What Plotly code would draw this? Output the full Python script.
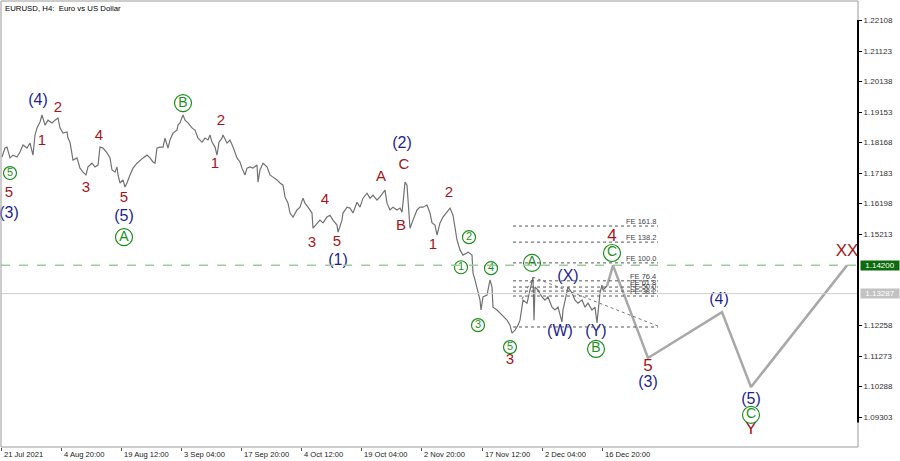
import plotly.graph_objects as go

# ---------------- data ----------------
price_x = [2,5,7,10,13,17,20,23,27,30,33,35,37,40,42,45,48,52,55,58,60,63,67,68,70,72,73,77,80,83,86,88,92,95,98,100,103,107,110,112,115,117,118,120,123,125,127,130,
           133,137,140,143,147,150,153,155,157,160,163,165,168,170,173,177,178,180,183,185,188,192,195,198,202,205,208,210,212,215,217,219,222,223,227,230,233,237,240,242,245,247,250,253,257,258,260,263,267,270,273,277,280,
           283,285,288,290,293,297,300,303,305,308,312,313,317,320,323,327,330,333,337,338,342,343,347,350,353,357,360,363,367,370,373,377,380,383,385,387,390,393,397,400,402,403,405,407,408,410,413,417,420,423,427,430,432,435,437,440,443,447,450,
           453,455,457,460,463,467,468,472,473,475,478,480,481,483,487,490,492,493,497,500,503,507,510,512,515,518,520,522,523,527,530,532,533,534,535,538,542,545,548,552,555,558,562,563,567,568,572,575,578,582,585,588,592,595,597,598,600,602,603,605,607]
price_y = [1.1770,1.1799,1.1802,1.1767,1.1776,1.1770,1.1786,1.1809,1.1799,1.1815,1.1776,1.1841,1.1864,1.1883,1.1906,1.1873,1.1889,1.1880,1.1889,1.1896,1.1864,1.1847,1.1851,1.1831,1.1818,1.1776,1.1760,1.1767,1.1734,1.1721,1.1712,1.1738,1.1750,1.1738,1.1744,1.1802,1.1799,1.1783,1.1767,1.1728,1.1721,1.1738,1.1712,1.1686,1.1696,1.1673,1.1686,1.1712,
           1.1734,1.1750,1.1760,1.1767,1.1776,1.1767,1.1754,1.1750,1.1799,1.1802,1.1802,1.1831,1.1799,1.1825,1.1847,1.1857,1.1873,1.1880,1.1906,1.1889,1.1880,1.1864,1.1857,1.1831,1.1818,1.1831,1.1825,1.1841,1.1818,1.1802,1.1776,1.1818,1.1831,1.1841,1.1815,1.1825,1.1802,1.1767,1.1754,1.1734,1.1712,1.1734,1.1738,1.1734,1.1744,1.1689,1.1728,1.1750,1.1738,1.1712,1.1705,1.1696,1.1686,
           1.1679,1.1641,1.1621,1.1589,1.1576,1.1599,1.1608,1.1637,1.1621,1.1608,1.1589,1.1540,1.1557,1.1566,1.1557,1.1576,1.1582,1.1566,1.1550,1.1527,1.1566,1.1589,1.1608,1.1605,1.1589,1.1624,1.1608,1.1637,1.1653,1.1637,1.1647,1.1631,1.1641,1.1653,1.1663,1.1621,1.1599,1.1608,1.1599,1.1605,1.1592,1.1621,1.1689,1.1679,1.1641,1.1540,1.1566,1.1599,1.1608,1.1608,1.1615,1.1589,1.1557,1.1550,1.1518,1.1557,1.1576,1.1592,1.1605,
           1.1582,1.1544,1.1502,1.1470,1.1453,1.1460,1.1463,1.1453,1.1395,1.1373,1.1331,1.1308,1.1276,1.1318,1.1324,1.1373,1.1350,1.1285,1.1276,1.1266,1.1253,1.1243,1.1227,1.1201,1.1211,1.1227,1.1243,1.1285,1.1308,1.1298,1.1340,1.1366,1.1382,1.1243,1.1350,1.1340,1.1318,1.1308,1.1318,1.1285,1.1276,1.1285,1.1237,1.1276,1.1331,1.1350,1.1331,1.1308,1.1298,1.1308,1.1285,1.1298,1.1276,1.1285,1.1234,1.1276,1.1331,1.1356,1.1340,1.1347,1.1353]

proj_x = [607, 613, 648, 722, 751, 847]
proj_y = [1.1353, 1.1420, 1.1121, 1.1269, 1.1027, 1.1420]

# wave labels
red_small_txt = ["5", "2", "1", "4", "3", "5", "2", "1", "4", "3", "5", "A", "C", "B", "2", "1", "3"]
red_small_x   = [9, 58, 42, 99, 86, 124, 221, 215, 325, 312, 337, 381, 404, 401, 449, 433, 510]
red_small_y   = [1.1653, 1.1928, 1.1822, 1.1838, 1.1670, 1.1637, 1.1886, 1.1747, 1.1631, 1.1492, 1.1495, 1.1705, 1.1744, 1.1547, 1.1653, 1.1486, 1.1114]

red_big_txt = ["4", "5", "Y", "XX"]
red_big_x   = [612, 648, 751, 847]
red_big_y   = [1.1511, 1.1092, 1.0888, 1.1463]

blue_txt = ["(3)", "(4)", "(5)", "(1)", "(2)", "(X)", "(W)", "(Y)", "(3)", "(4)", "(5)"]
blue_x   = [9, 38, 124, 338, 402, 568, 560, 596, 648, 719, 751]
blue_y   = [1.1585, 1.1951, 1.1576, 1.1434, 1.1812, 1.1382, 1.1204, 1.1204, 1.1040, 1.1308, 1.0985]

green_small_txt = ["5", "2", "1", "4", "3", "5"]
green_small_x   = [10, 469, 461, 491, 478, 510]
green_small_y   = [1.1718, 1.1511, 1.1414, 1.1411, 1.1227, 1.1156]

green_big_txt = ["A", "B", "A", "B", "C", "C"]
green_big_x   = [124, 183, 532, 596, 612, 751]
green_big_y   = [1.1511, 1.1944, 1.1428, 1.1150, 1.1460, 1.0937]

# fibonacci expansion levels
fe_names  = ["FE 161.8", "FE 138.2", "FE 100.0", "FE 76.4", "FE 61.8", "FE 50.0", "FE 38.2", ""]
fe_levels = [1.1547, 1.1495, 1.1428, 1.1370, 1.1350, 1.1337, 1.1321, 1.1221]
fe_x0, fe_x1 = 513, 658
trend_x = [522, 533, 658]
trend_y = [1.1311, 1.1382, 1.1224]

target_level = 1.14200
bid_level = 1.13287

y_ticks = [1.22108, 1.21123, 1.20138, 1.19153, 1.18168, 1.17183, 1.16198, 1.15213,
           1.12258, 1.11273, 1.10288, 1.09303]
x_ticks = [1, 61, 121, 181, 241, 301, 361, 421, 482, 542, 602]
x_tick_labels = ["21 Jul 2021", "4 Aug 20:00", "19 Aug 12:00", "3 Sep 04:00", "17 Sep 20:00",
                 "4 Oct 12:00", "19 Oct 04:00", "2 Nov 20:00", "17 Nov 12:00", "2 Dec 04:00",
                 "16 Dec 20:00"]

RED = "#a3161c"
BLUE = "#1f1f8f"
GREEN = "#1f8f1f"
FONT = "Liberation Sans"

fig = go.Figure()

fig.add_trace(go.Scatter(x=price_x, y=price_y, mode="lines",
                         line=dict(color="#727272", width=1.2), hoverinfo="skip"))
fig.add_trace(go.Scatter(x=proj_x, y=proj_y, mode="lines",
                         line=dict(color="#a8a8a8", width=2.5), hoverinfo="skip"))
fig.add_trace(go.Scatter(x=trend_x, y=trend_y, mode="lines",
                         line=dict(color="#777777", width=1, dash="dot"), hoverinfo="skip"))

fig.add_trace(go.Scatter(x=red_small_x, y=red_small_y, text=red_small_txt, mode="text",
                         textfont=dict(color=RED, size=15, family=FONT), cliponaxis=False))
fig.add_trace(go.Scatter(x=red_big_x, y=red_big_y, text=red_big_txt, mode="text",
                         textfont=dict(color=RED, size=17, family=FONT), cliponaxis=False))
fig.add_trace(go.Scatter(x=blue_x, y=blue_y, text=blue_txt, mode="text",
                         textfont=dict(color=BLUE, size=16, family=FONT), cliponaxis=False))
fig.add_trace(go.Scatter(x=green_small_x, y=green_small_y, text=green_small_txt, mode="markers+text",
                         textposition="middle center",
                         marker=dict(symbol="circle-open", size=13, color=GREEN, line=dict(width=1.2)),
                         textfont=dict(color=GREEN, size=11, family=FONT), cliponaxis=False))
fig.add_trace(go.Scatter(x=green_big_x, y=green_big_y, text=green_big_txt, mode="markers+text",
                         textposition="middle center",
                         marker=dict(symbol="circle-open", size=17, color=GREEN, line=dict(width=1.2)),
                         textfont=dict(color=GREEN, size=14, family=FONT), cliponaxis=False))

shapes = []
shapes.append(dict(type="line", xref="paper", x0=0, x1=1, yref="y", y0=target_level, y1=target_level,
                   line=dict(color="#9cce9c", width=1.5, dash="dash")))
shapes.append(dict(type="line", xref="paper", x0=0, x1=1, yref="y", y0=bid_level, y1=bid_level,
                   line=dict(color="#cfcfcf", width=1)))
for lv in fe_levels:
    shapes.append(dict(type="line", xref="x", x0=fe_x0, x1=fe_x1, yref="y", y0=lv, y1=lv,
                       line=dict(color="#555555", width=1, dash="dot")))
shapes.append(dict(type="rect", xref="paper", yref="paper", x0=0, x1=1, y0=0, y1=1,
                   line=dict(color="#9a9a9a", width=1)))
shapes.append(dict(type="line", xref="paper", x0=1, x1=1, yref="y", y0=y_ticks[0] + 0.0002,
                   y1=y_ticks[-1] - 0.0018, line=dict(color="black", width=2)))

annotations = []
annotations.append(dict(text="EURUSD, H4:\u00a0 Euro vs US Dollar", xref="paper", yref="paper",
                        x=0, y=1, xanchor="left", yanchor="top", xshift=2, yshift=-1, showarrow=False,
                        font=dict(size=7.8, color="black", family=FONT)))
for name, lv in zip(fe_names, fe_levels):
    if name:
        annotations.append(dict(text=name, x=fe_x1, y=lv, xref="x", yref="y", xanchor="right",
                                yanchor="bottom", showarrow=False, yshift=-2,
                                font=dict(size=7.5, color="#444444", family=FONT)))
for tv, tl in zip(x_ticks, x_tick_labels):
    annotations.append(dict(text=tl, x=tv, y=0, xref="x", yref="paper", xanchor="left",
                            yanchor="top", xshift=1, yshift=-1, showarrow=False,
                            font=dict(size=7.6, color="#222222", family=FONT)))
annotations.append(dict(text="1.14200", x=1, y=target_level, xref="paper", yref="y", xanchor="left",
                        yanchor="middle", xshift=2, showarrow=False, bgcolor="#0d6b0d", borderpad=0,
                        width=38, font=dict(size=8, color="white", family=FONT)))
annotations.append(dict(text="1.13287", x=1, y=bid_level, xref="paper", yref="y", xanchor="left",
                        yanchor="middle", xshift=2, showarrow=False, bgcolor="#c2c2c2", borderpad=0,
                        width=38, font=dict(size=8, color="white", family=FONT)))

fig.update_layout(
    width=900, height=461,
    margin=dict(l=1, r=42, t=1, b=14),
    paper_bgcolor="white", plot_bgcolor="white",
    showlegend=False,
    shapes=shapes, annotations=annotations,
    xaxis=dict(range=[1, 858], showgrid=False, zeroline=False, showline=False,
               tickvals=x_ticks, ticktext=[""] * len(x_ticks), ticks="outside", ticklen=3,
               tickcolor="#555555", fixedrange=True),
    yaxis=dict(range=[1.08334, 1.22738], side="right", showgrid=False, zeroline=False,
               showline=False, tickvals=y_ticks, ticktext=[f"{v:.5f}" for v in y_ticks],
               ticks="outside", ticklen=3, tickcolor="black",
               tickfont=dict(size=8, color="#333333", family=FONT), fixedrange=True),
)

fig.write_html("out.html", config={"displayModeBar": False},
               post_script="document.body.style.margin='0';document.body.style.overflow='hidden';")
